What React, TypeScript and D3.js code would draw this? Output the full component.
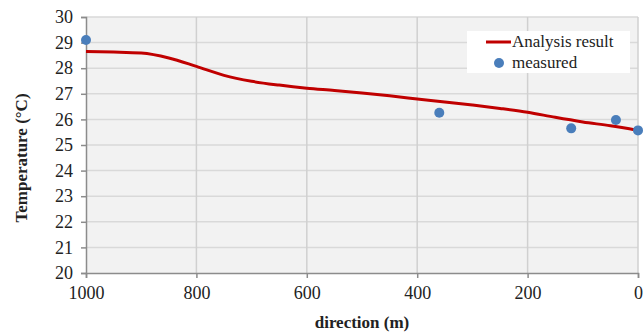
import React, { useEffect, useRef } from 'react';
import * as d3 from 'd3';

// analysis result curve (distance in m, temperature in °C)
const lineDist = [1000, 950, 900, 850, 800, 750, 700, 650, 600, 550, 500, 450, 400, 350, 300, 250, 200, 150, 100, 50, 0];
const lineTemp = [28.65, 28.63, 28.59, 28.4, 28.07, 27.72, 27.49, 27.34, 27.22, 27.13, 27.03, 26.92, 26.8, 26.68, 26.56, 26.43, 26.28, 26.08, 25.9, 25.75, 25.57];

// measured points
const measDist = [1000, 360, 121, 40, 0];
const measTemp = [29.1, 26.26, 25.65, 25.98, 25.57];

const xTicks = [1000, 800, 600, 400, 200, 0];
const yTicks = [20, 21, 22, 23, 24, 25, 26, 27, 28, 29, 30];

const seriesNames = ['Analysis result', 'measured'];

const App = () => {
  const ref = useRef<SVGSVGElement>(null);

  useEffect(() => {
    const W = 643;
    const H = 335;
    const left = 86;
    const right = 638;
    const top = 17;
    const bottom = 273;
    const font = 'Liberation Serif';

    const svg = d3.select(ref.current);
    svg.selectAll('*').remove();
    svg.attr('width', W).attr('height', H).attr('font-family', font);

    const x = d3.scaleLinear().domain([1000, 0]).range([left, right]);
    const y = d3.scaleLinear().domain([20, 30]).range([bottom, top]);

    svg.append('rect').attr('width', W).attr('height', H).attr('fill', '#fff');

    // plot area
    svg
      .append('rect')
      .attr('x', left)
      .attr('y', top)
      .attr('width', right - left)
      .attr('height', bottom - top)
      .attr('fill', '#f2f2f2');

    // grid
    svg
      .append('g')
      .selectAll('line')
      .data(yTicks.filter((t) => t !== 20))
      .enter()
      .append('line')
      .attr('x1', left)
      .attr('x2', right)
      .attr('y1', (d) => y(d))
      .attr('y2', (d) => y(d))
      .attr('stroke', '#d9d9d9')
      .attr('stroke-width', 1.5);

    svg
      .append('g')
      .selectAll('line')
      .data(xTicks.filter((t) => t !== 1000))
      .enter()
      .append('line')
      .attr('x1', (d) => x(d))
      .attr('x2', (d) => x(d))
      .attr('y1', top)
      .attr('y2', bottom)
      .attr('stroke', '#d0d0d0')
      .attr('stroke-width', 1.5);

    // axes
    const yAxis = svg
      .append('g')
      .attr('transform', `translate(${left},0)`)
      .call(d3.axisLeft(y).tickValues(yTicks).tickSize(5).tickPadding(8).tickFormat(d3.format('d')));
    const xAxis = svg
      .append('g')
      .attr('transform', `translate(0,${bottom})`)
      .call(d3.axisBottom(x).tickValues(xTicks).tickSize(5).tickPadding(8).tickFormat(d3.format('d')));

    [yAxis, xAxis].forEach((g) => {
      g.attr('font-family', font).attr('font-size', 18);
      g.select('.domain').attr('stroke', '#8c8c8c').attr('stroke-width', 1.5);
      g.selectAll('.tick line').attr('stroke', '#8c8c8c').attr('stroke-width', 1.5);
      g.selectAll('.tick text').attr('fill', '#222');
    });

    // analysis line
    const lineData = lineDist.map((d, i) => ({ d, t: lineTemp[i] }));
    svg
      .append('path')
      .datum(lineData)
      .attr('fill', 'none')
      .attr('stroke', '#c00000')
      .attr('stroke-width', 3)
      .attr(
        'd',
        d3
          .line<{ d: number; t: number }>()
          .x((p) => x(p.d))
          .y((p) => y(p.t))
          .curve(d3.curveMonotoneX)
      );

    // measured points
    svg
      .append('g')
      .selectAll('circle')
      .data(measDist.map((d, i) => ({ d, t: measTemp[i] })))
      .enter()
      .append('circle')
      .attr('cx', (p) => x(p.d))
      .attr('cy', (p) => y(p.t))
      .attr('r', 5)
      .attr('fill', '#4a7ebb');

    // legend
    const lg = svg.append('g');
    lg.append('rect')
      .attr('x', 467)
      .attr('y', 31)
      .attr('width', 163)
      .attr('height', 42)
      .attr('fill', '#fff');
    lg.append('line')
      .attr('x1', 486)
      .attr('x2', 511)
      .attr('y1', 42)
      .attr('y2', 42)
      .attr('stroke', '#c00000')
      .attr('stroke-width', 3);
    lg.append('circle').attr('cx', 499).attr('cy', 63).attr('r', 5).attr('fill', '#4a7ebb');
    lg.selectAll('text')
      .data(seriesNames)
      .enter()
      .append('text')
      .attr('x', 512)
      .attr('y', (_, i) => 47 + i * 21)
      .attr('fill', '#222')
      .attr('font-size', 17)
      .text((d) => d);

    // axis titles
    svg
      .append('text')
      .attr('x', (left + right) / 2)
      .attr('y', 328)
      .attr('text-anchor', 'middle')
      .attr('fill', '#222')
      .attr('font-size', 17)
      .attr('font-weight', 'bold')
      .text('direction (m)');

    svg
      .append('text')
      .attr('transform', 'translate(27,158) rotate(-90)')
      .attr('text-anchor', 'middle')
      .attr('fill', '#222')
      .attr('font-size', 17)
      .attr('font-weight', 'bold')
      .text('Temperature (°C)');
  }, []);

  return <svg ref={ref} style={{ position: 'absolute', left: 0, top: 0 }} />;
};

export default App;
